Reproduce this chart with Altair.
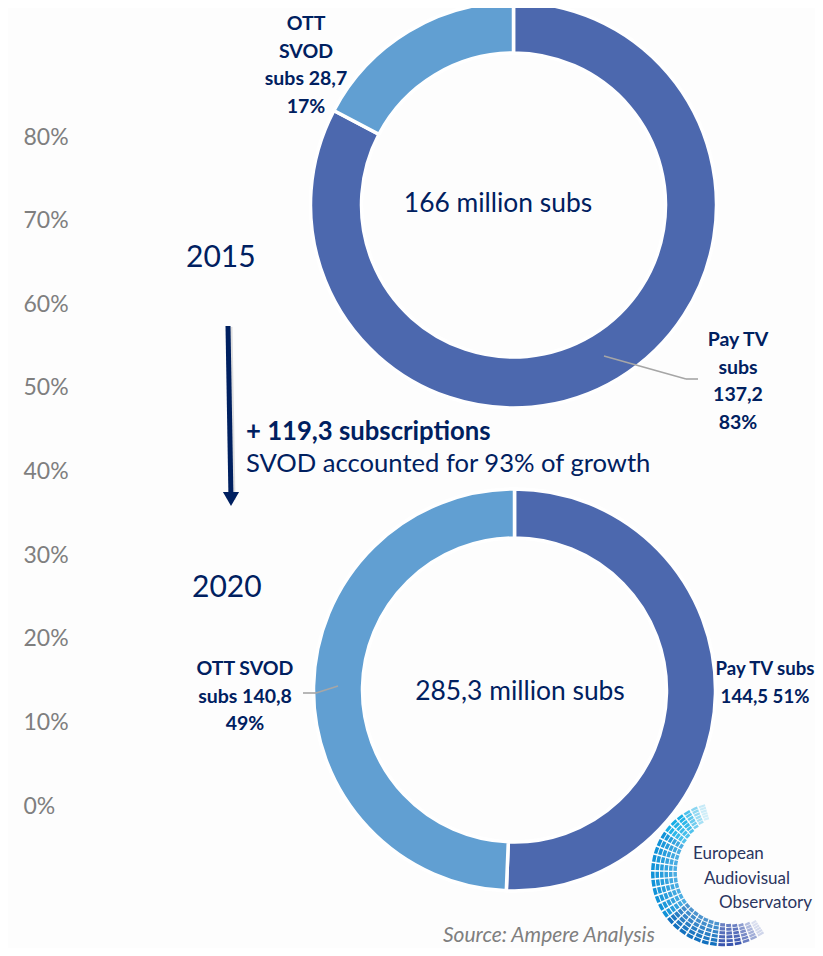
import math
import altair as alt
import pandas as pd

# ---- values
segments = ["Pay TV", "OTT SVOD"]
subs_2015 = [137.2, 28.7]
subs_2020 = [144.5, 140.8]
axis_ticks = [0, 0.1, 0.2, 0.3, 0.4, 0.5, 0.6, 0.7, 0.8]

label_ott_2015 = "OTT\nSVOD\nsubs 28,7\n17%"
label_pay_2015 = "Pay TV\nsubs\n137,2\n83%"
label_ott_2020 = "OTT SVOD\nsubs 140,8\n49%"
label_pay_2020 = "Pay TV subs\n144,5 51%"
center_2015 = "166 million subs"
center_2020 = "285,3 million subs"
year_a = "2015"
year_b = "2020"
growth_head = "+ 119,3 subscriptions"
growth_note = "SVOD accounted for 93% of growth"
source = "Source: Ampere Analysis"
logo_lines = ["European", "Audiovisual", "Observatory"]

NAVY = "#002060"
DARK = "#4C68AE"
LIGHT = "#619FD2"
GREY = "#A6A6A6"
FONT = "Lato"
M = 8  # page margin


def X(p):
    return alt.value(p - M)


def Y(p):
    return alt.value(p - M)


def donut(values, cx, cy, r, r2):
    df = pd.DataFrame({"segment": segments, "subs": values, "o": [0, 1]})
    return alt.Chart(df).mark_arc(stroke="white", strokeWidth=3.5).encode(
        theta=alt.Theta("subs:Q", stack=True),
        order=alt.Order("o:Q"),
        color=alt.Color("segment:N", legend=None,
                        scale=alt.Scale(domain=segments, range=[DARK, LIGHT])),
        x=X(cx), y=Y(cy),
        radius=alt.value(r), radius2=alt.value(r2),
    )


def text(s, px, py, size, weight="normal", align="center", color=NAVY, style="normal", lh=None, font=FONT):
    kw = {"lineBreak": "\n"}
    if lh:
        kw["lineHeight"] = lh
    return alt.Chart(pd.DataFrame({"t": [s]})).mark_text(
        fontSize=size, fontWeight=weight, align=align, baseline="middle",
        color=color, fontStyle=style, font=font, **kw
    ).encode(text="t:N", x=X(px), y=Y(py + 2))


def seg(x1, y1, x2, y2, color=GREY, w=1.6, op=1.0):
    return alt.Chart(pd.DataFrame({"a": [0]})).mark_rule(color=color, strokeWidth=w, opacity=op).encode(
        x=X(x1), x2=X(x2), y=Y(y1), y2=Y(y2))


# axis-only layer
axis_layer = alt.Chart(pd.DataFrame({"v": axis_ticks})).mark_point(opacity=0).encode(
    x=alt.value(0),
    y=alt.Y("v:Q", scale=alt.Scale(domain=[0, 0.8], range=[806 - M, 137 - M]),
            axis=alt.Axis(values=axis_ticks, format=".0%", title=None, grid=False, domain=False,
                          ticks=False, labelAlign="left", labelPadding=-15, labelFont=FONT,
                          labelFontSize=23, labelColor="#7F7F7F")),
)

# logo tiles (decoration)
rows = []
LCX, LCY = 725, 873
start, end = math.radians(147), math.radians(345)
n_ang, n_ring = 30, 6
for i in range(n_ang):
    f0 = i / n_ang
    f1 = (i + 0.8) / n_ang
    t = (i + 0.5) / n_ang
    taper = abs(2 * t - 1)
    rin = 48 + 9 * taper ** 3
    rout = 75 - 3 * taper ** 3
    for j in range(n_ring):
        r0 = rin + (rout - rin) * (j / n_ring)
        r1 = rin + (rout - rin) * ((j + 0.78) / n_ring)
        if t < 0.2:
            col = "#3A55AE"
        elif t < 0.45:
            col = "#1270BE"
        elif t < 0.8:
            col = "#1092D8"
        else:
            col = "#16AEE6"
        edge = min(t, 1 - t)
        op = min(1.0, 0.1 + edge * 8) * (0.7 + 0.3 * (j + 1) / n_ring)
        rows.append({"th": start + (end - start) * f0, "th2": start + (end - start) * f1,
                     "r": r1, "r2": r0, "c": col, "op": op})
logo = alt.Chart(pd.DataFrame(rows)).mark_arc().encode(
    theta=alt.Theta("th:Q", scale=None), theta2="th2:Q",
    radius=alt.Radius("r:Q", scale=None), radius2="r2:Q",
    color=alt.Color("c:N", scale=None),
    opacity=alt.Opacity("op:Q", scale=None),
    x=X(LCX), y=Y(LCY),
)

arrow_head = alt.Chart(pd.DataFrame({"a": [0]})).mark_point(
    shape="triangle-down", filled=True, color=NAVY, opacity=1, size=260
).encode(x=X(231), y=Y(499))

layers = [
    axis_layer,
    donut(subs_2015, 513.5, 205, 203, 152),
    donut(subs_2020, 514.5, 690, 201, 152),
    seg(604, 356, 686, 379), seg(686, 379, 698, 379),
    seg(338, 686, 316, 693), seg(316, 693, 303, 693),
    seg(230, 327, 233, 500, "#000000", 5, 0.12),
    seg(228, 326, 231, 500, NAVY, 5),
    arrow_head,
    text(label_ott_2015, 306, 22, 19.5, "bold", lh=27.6),
    text(label_pay_2015, 738, 338, 19.5, "bold", lh=27.6),
    text(label_ott_2020, 245, 667, 19.5, "bold", lh=27.6),
    text(label_pay_2020, 765, 667, 18.6, "bold", lh=27.6),
    text(center_2015, 498, 202, 26.4),
    text(center_2020, 520, 690, 26.4),
    text(year_a, 186, 256, 30, align="left"),
    text(year_b, 192, 586, 30, align="left"),
    text(growth_head, 246, 430, 25.7, "bold", align="left"),
    text(growth_note, 246, 462, 25.6, align="left"),
    text(source, 443, 934, 21, align="left", color="#7F7F7F", style="italic"),
    logo,
    text(logo_lines[0], 693, 852, 17, align="left", color="#2B3560"),
    text(logo_lines[1], 704, 877, 17, align="left", color="#2B3560"),
    text(logo_lines[2], 719, 901, 17, align="left", color="#2B3560"),
]

chart = alt.layer(*layers).resolve_scale(theta="independent").properties(
    width=807, height=940, padding=0, background="#FDFDFD",
    autosize=alt.AutoSizeParams(type="none"),
).configure_view(stroke=None)

chart.save("out.html", embed_options={"renderer": "svg", "actions": False})
